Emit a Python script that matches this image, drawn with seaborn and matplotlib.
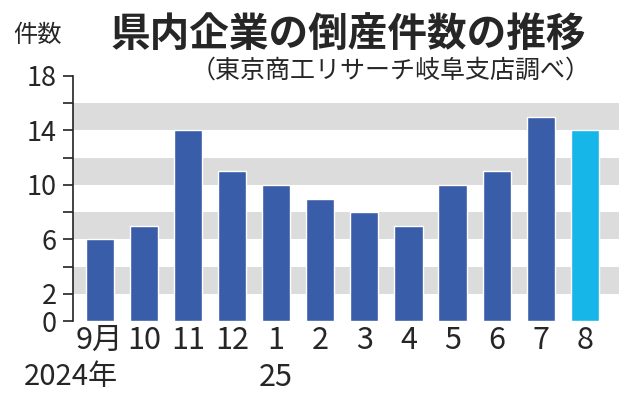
import seaborn as sns
import matplotlib.pyplot as plt
import matplotlib.transforms as mtransforms

sns.set_style('white')
plt.rcParams['font.family'] = ['Noto Sans CJK JP', 'DejaVu Sans']
narrow = ['Liberation Sans Narrow', 'Noto Sans CJK JP']

# 月別の倒産件数
months = ['9月', '10', '11', '12', '1', '2', '3', '4', '5', '6', '7', '8']
counts = [6, 7, 14, 11, 10, 9, 8, 7, 10, 11, 15, 14]
highlight = ['past'] * 11 + ['latest']
colors = {'past': '#3a5da9', 'latest': '#17b6e8'}
ytick_labels = {0: '0', 2: '2', 6: '6', 10: '10', 14: '14', 18: '18'}
bands = [(2, 4), (6, 8), (10, 12), (14, 16)]

fig = plt.figure(figsize=(6.34, 4), dpi=100)
ax = fig.add_axes([0.115, 0.1975, 0.861, 0.6125])

for lo, hi in bands:
    ax.axhspan(lo, hi, color='#dcdcdc', lw=0, zorder=0)

sns.barplot(x=months, y=counts, hue=highlight, palette=colors, legend=False,
            width=0.64, saturation=1, ax=ax, zorder=2)

ax.set_xlim(-0.61, 11.77)
ax.set_ylim(0, 18)
ax.set_yticks(range(0, 19, 2))
ax.set_yticklabels([ytick_labels.get(v, '') for v in range(0, 19, 2)])
ax.tick_params(axis='y', length=7.5, width=1.2, direction='out', labelsize=19.5,
               pad=4, left=True, color='#222222')
ax.tick_params(axis='x', length=0, pad=3)
for lab in ax.get_xticklabels():
    lab.set_fontfamily(narrow)
    lab.set_fontsize(22)
for s in ['top', 'right', 'bottom']:
    ax.spines[s].set_visible(False)
ax.spines['left'].set_color('#222222')
ax.spines['left'].set_linewidth(1.2)
ax.set_xlabel('')
ax.set_ylabel('')

trans = mtransforms.blended_transform_factory(ax.transData, fig.transFigure)
ax.text(0.42, 1 - 377 / 400, '2024年', transform=trans, ha='right', va='center',
        fontsize=21, family=narrow)
ax.text(4, 1 - 377 / 400, '25', transform=trans, ha='center', va='center',
        fontsize=22, family=narrow)

fig.text(348 / 634, 1 - 35 / 400, '県内企業の倒産件数の推移', ha='center',
         va='center', fontsize=28.5, fontweight='bold')
fig.text(591 / 634, 1 - 71 / 400, '（東京商工リサーチ岐阜支店調べ）', ha='right',
         va='center', fontsize=18)
fig.text(38 / 634, 1 - 35 / 400, '件数', ha='center', va='center', fontsize=17.5)

fig.savefig('out.png', dpi=100)
